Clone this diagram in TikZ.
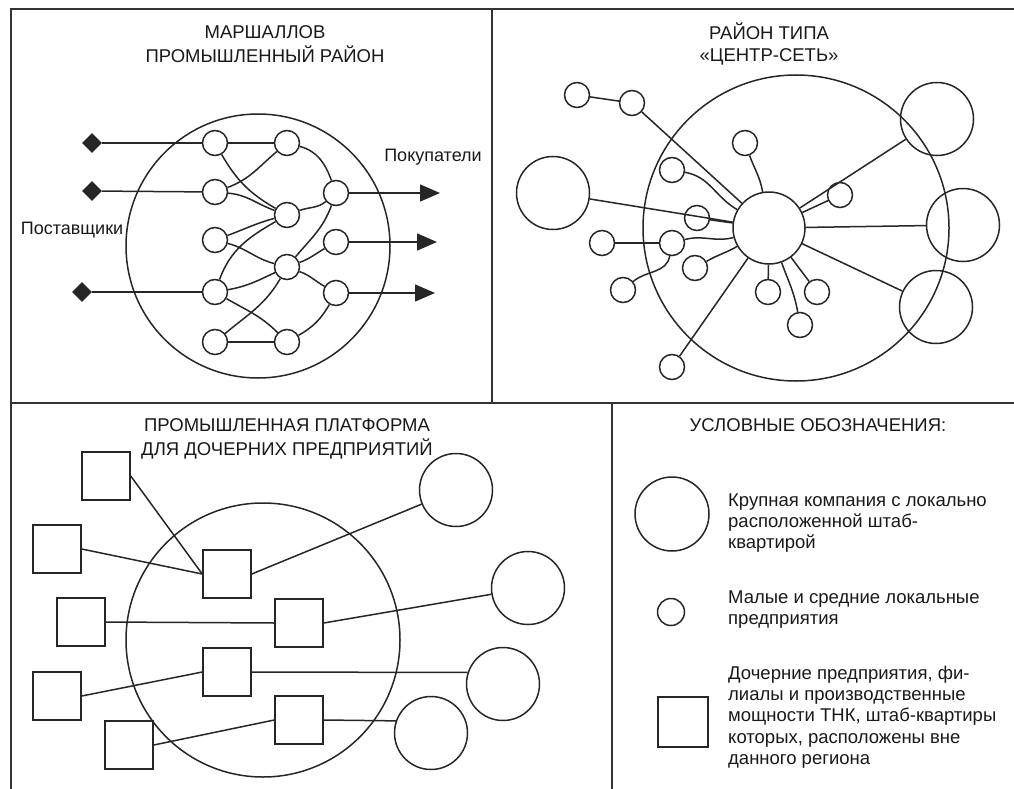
\documentclass[tikz,border=0pt]{standalone}
\usepackage{fontspec}
\setmainfont{Liberation Sans}
\usetikzlibrary{shapes.geometric,arrows.meta}
\begin{document}
\begin{tikzpicture}[x=1pt,y=1pt,
  ln/.style={line width=1.5pt, draw=black!85},
  frame/.style={line width=1.7pt, draw=black!80},
  sm/.style={circle, ln, minimum size=25pt, inner sep=0pt},
  bg/.style={circle, ln, minimum size=73pt, inner sep=0pt},
  sq/.style={rectangle, ln, minimum size=48pt, inner sep=0pt},
  dm/.style={diamond, fill=black!85, minimum width=20pt, minimum height=20pt, inner sep=0pt},
  ttl/.style={font=\fontsize{18.5}{21.4}\selectfont, text=black!90, align=center, anchor=north, inner sep=0pt},
  lbl/.style={font=\fontsize{18.5}{21.4}\selectfont, text=black!90, align=left, anchor=north west, inner sep=0pt},
  txt/.style={font=\fontsize{18}{21.4}\selectfont, text=black!90, anchor=base, inner sep=0pt},
  con/.style={line width=1.5pt, draw=black!85},
  arr/.style={con, -{Triangle[length=20pt,width=17pt]}},
]
\useasboundingbox (0,0) rectangle (1014,-789);
% frame
\draw[frame] (1014,-9) -- (11,-9) -- (11,-789);
\draw[frame] (492,-9) -- (492,-403);
\draw[frame] (11,-403) -- (1014,-403);
\draw[frame] (612,-403) -- (612,-789);

% ---------- top left ----------
\node[ttl] (t1) at (265,-23) {\strut МАРШАЛЛОВ\\ПРОМЫШЛЕННЫЙ РАЙОН};
\node[circle, ln, minimum size=264pt, inner sep=0pt] (bc1) at (258,-246) {};
\node[sm] (L1) at (215,-143) {};
\node[sm] (L2) at (215,-192) {};
\node[sm] (L3) at (215,-240) {};
\node[sm] (L4) at (215,-292) {};
\node[sm] (L5) at (215,-342) {};
\node[sm] (M1) at (287,-143) {};
\node[sm] (M2) at (287,-215) {};
\node[sm] (M3) at (287,-267) {};
\node[sm] (M4) at (287,-342) {};
\node[sm] (R1) at (336,-193) {};
\node[sm] (R2) at (336,-242) {};
\node[sm] (R3) at (336,-293) {};
\node[dm] (d1) at (92,-143) {};
\node[dm] (d2) at (92,-191) {};
\node[dm] (d3) at (82,-292) {};
\coordinate (a1) at (440,-193);
\coordinate (a2) at (437,-242);
\coordinate (a3) at (435,-293);
\node[txt] (pok) at (433,-161) {Покупатели};
\node[txt] (post) at (72,-234) {Поставщики};
\draw[con] (d1) -- (L1);
\draw[con] (d2) -- (L2);
\draw[con] (d3) -- (L4);
\draw[arr] (R1) -- (a1);
\draw[arr] (R2) -- (a2);
\draw[arr] (R3) -- (a3);
\draw[con] (L1) -- (M1);
\draw[con] (L1) to[out=-60,in=150] (M2);
\draw[con] (L2) to[out=20,in=-140] (M1);
\draw[con] (L2) to[out=-5,in=160] (M2);
\draw[con] (M1) to[out=-15,in=110] (R1);
\draw[con] (M2) to[out=20,in=-140] (R1);
\draw[con] (L3) to[out=20,in=-165] (M2);
\draw[con] (L3) to[out=-15,in=165] (M3);
\draw[con] (M2) to[out=-150,in=70] (L4);
\draw[con] (R1) to[out=-110,in=50] (M3);
\draw[con] (L4) to[out=10,in=-155] (M3);
\draw[con] (L4) to[out=-30,in=135] (M4);
\draw[con] (L5) to[out=40,in=-120] (M3);
\draw[con] (L5) -- (M4);
\draw[con] (M3) to[out=20,in=-150] (R2);
\draw[con] (M3) to[out=-20,in=150] (R3);
\draw[con] (M4) to[out=30,in=-120] (R3);

% ---------- top right ----------
\node[ttl] (t2) at (769,-23) {\strut РАЙОН ТИПА\\«ЦЕНТР-СЕТЬ»};
\node[circle, ln, minimum size=306pt, inner sep=0pt] (bc2) at (796,-228) {};
\node[circle, ln, minimum size=72pt, inner sep=0pt] (hub) at (769,-228) {};
\node[bg] (B1) at (937,-119) {};
\node[bg] (B2) at (963,-225) {};
\node[bg] (B3) at (936,-307) {};
\node[bg] (B4) at (553,-193) {};
\node[sm] (s1) at (577,-95) {};
\node[sm] (s2) at (632,-103) {};
\node[sm] (s3) at (745,-143) {};
\node[sm] (s4) at (672,-170) {};
\node[sm] (s5) at (840,-195) {};
\node[sm] (s6) at (697,-218) {};
\node[sm] (s7) at (602,-243) {};
\node[sm] (s8) at (672,-243) {};
\node[sm] (s9) at (695,-268) {};
\node[sm] (s10) at (623,-290) {};
\node[sm] (s11) at (768,-292) {};
\node[sm] (s12) at (817,-292) {};
\node[sm] (s13) at (800,-325) {};
\node[sm] (s14) at (672,-367) {};
\draw[con] (s1) -- (s2);
\draw[con] (s2) -- (hub);
\draw[con] (s3) to[out=-70,in=100] (hub);
\draw[con] (s4) to[out=-10,in=150] (hub);
\draw[con] (B4) -- (hub);
\draw[con] (s6) -- (hub);
\draw[con] (s7) -- (s8);
\draw[con] (s8) to[out=15,in=195] (hub);
\draw[con] (s10) to[out=40,in=-100] (s8);
\draw[con] (s9) to[out=30,in=210] (hub);
\draw[con] (s14) -- (hub);
\draw[con] (s11) -- (hub);
\draw[con] (s13) to[out=100,in=-70] (hub);
\draw[con] (s12) -- (hub);
\draw[con] (hub) -- (B1);
\draw[con] (hub) -- (B2);
\draw[con] (hub) -- (B3);
\draw[con] (s5) -- (hub);

% ---------- bottom left ----------
\node[ttl] (t3) at (287,-416) {\strut ПРОМЫШЛЕННАЯ ПЛАТФОРМА\\ДЛЯ ДОЧЕРНИХ ПРЕДПРИЯТИЙ};
\node[circle, ln, minimum size=274pt, inner sep=0pt] (bc3) at (263,-640) {};
\node[sq] (S1) at (106,-476) {};
\node[sq] (S2) at (57,-549) {};
\node[sq] (S3) at (227,-574) {};
\node[sq] (S4) at (81,-622) {};
\node[sq] (S5) at (299,-623) {};
\node[sq] (S6) at (57,-696) {};
\node[sq] (S7) at (227,-672) {};
\node[sq] (S8) at (299,-720) {};
\node[sq] (S9) at (129,-745) {};
\node[bg] (C1) at (456,-490) {};
\node[bg] (C2) at (528,-588) {};
\node[bg] (C3) at (503,-684) {};
\node[bg] (C4) at (431,-733) {};
\draw[con] (S1.east) -- (S3.west);
\draw[con] (S2.east) -- (S3.west);
\draw[con] (S3.east) -- (C1);
\draw[con] (S4.east) -- (S5.west);
\draw[con] (S5.east) -- (C2);
\draw[con] (S6.east) -- (S7.west);
\draw[con] (S7.east) -- (C3.162);
\draw[con] (S9.east) -- (S8.west);
\draw[con] (S8.east) -- (C4.161);

% ---------- legend ----------
\node[ttl] (t4) at (818,-416) {\strut УСЛОВНЫЕ ОБОЗНАЧЕНИЯ:};
\node[bg, minimum size=74pt] (lg1) at (672,-514) {};
\node[sm, minimum size=27pt] (lg2) at (671,-612) {};
\node[sq, minimum size=50pt] (lg3) at (683,-722) {};
\node[lbl] (lt1) at (728,-491) {\strut Крупная компания с локально\\расположенной штаб-\\квартирой};
\node[lbl] (lt2) at (728,-588) {\strut Малые и средние локальные\\предприятия};
\node[lbl] (lt3) at (728,-664) {\strut Дочерние предприятия, фи-\\лиалы и производственные\\мощности ТНК, штаб-квартиры\\которых, расположены вне\\данного региона};
\end{tikzpicture}
\end{document}
